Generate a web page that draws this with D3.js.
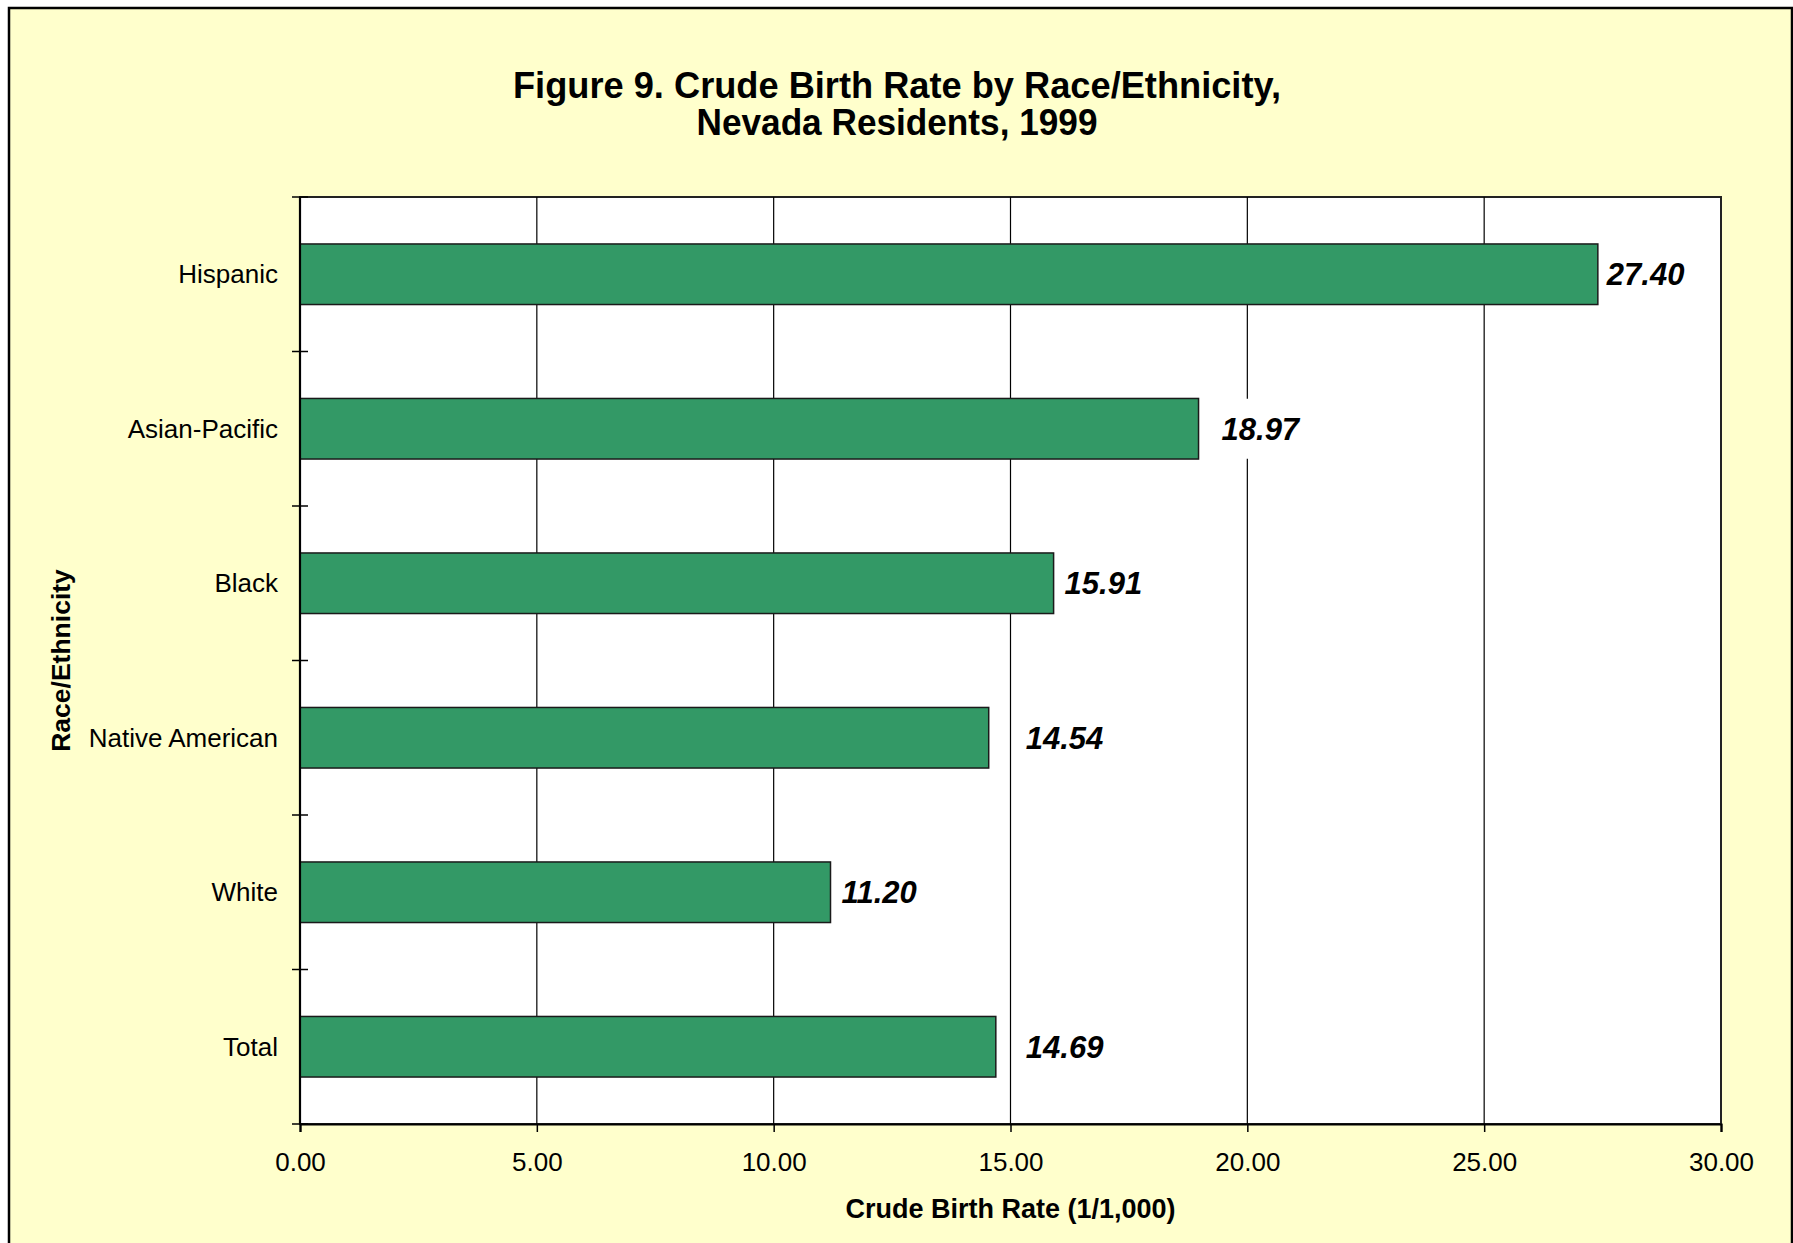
<!DOCTYPE html>
<html>
<head>
<meta charset="utf-8">
<script src="https://cdn.jsdelivr.net/npm/d3@7"></script>
<style>
  html, body { margin: 0; padding: 0; background: #ffffff; }
  svg { display: block; font-family: Arial, "Liberation Sans", sans-serif; }
</style>
</head>
<body>
<svg id="chart" width="1793" height="1243"></svg>
<script>
// data
const categories = ["Hispanic", "Asian-Pacific", "Black", "Native American", "White", "Total"];
const rates = [27.40, 18.97, 15.91, 14.54, 11.20, 14.69];
const xTicks = [0, 5, 10, 15, 20, 25, 30];

// label gap after each bar end (the labels were hand-placed in the original)
const labelGap = [9, 23, 11, 37, 11, 30];

const titleLines = ["Figure 9. Crude Birth Rate by Race/Ethnicity,", "Nevada Residents, 1999"];
const titleWidths = [768, 401];
const xTitle = "Crude Birth Rate (1/1,000)";
const yTitle = "Race/Ethnicity";

// layout
const plot = { left: 300, right: 1721, top: 197, bottom: 1124 };
const barColor = "#339966";

const svg = d3.select("#chart");

// chart area
svg.append("rect")
    .attr("x", 9).attr("y", 8)
    .attr("width", 1783).attr("height", 1260)
    .attr("fill", "#ffffcc")
    .attr("stroke", "#000")
    .attr("stroke-width", 2.5);

// title
svg.append("g").selectAll("text")
    .data(titleLines)
    .enter().append("text")
    .attr("x", 897)
    .attr("y", (d, i) => 98 + i * 37)
    .attr("text-anchor", "middle")
    .attr("font-size", "36px")
    .attr("font-weight", "bold")
    .attr("textLength", (d, i) => titleWidths[i])
    .attr("lengthAdjust", "spacingAndGlyphs")
    .text(d => d);

const x = d3.scaleLinear().domain([0, 30]).range([plot.left, plot.right]);
const y = d3.scaleBand()
    .domain(categories)
    .range([plot.top, plot.bottom])
    .paddingInner(0.608)
    .paddingOuter(0.304);

// plot area
svg.append("rect")
    .attr("x", plot.left).attr("y", plot.top)
    .attr("width", plot.right - plot.left)
    .attr("height", plot.bottom - plot.top)
    .attr("fill", "#ffffff")
    .attr("stroke", "#222")
    .attr("stroke-width", 2);

// vertical gridlines
svg.append("g").selectAll("line")
    .data(xTicks.slice(1, -1))
    .enter().append("line")
    .attr("x1", d => x(d)).attr("x2", d => x(d))
    .attr("y1", plot.top).attr("y2", plot.bottom)
    .attr("stroke", "#000")
    .attr("stroke-width", 1.2);

// bars
svg.append("g").selectAll("rect")
    .data(categories)
    .enter().append("rect")
    .attr("x", x(0))
    .attr("y", d => y(d))
    .attr("width", (d, i) => x(rates[i]) - x(0))
    .attr("height", y.bandwidth())
    .attr("fill", barColor)
    .attr("stroke", "#1a1a1a")
    .attr("stroke-width", 1.5);

// value labels with white backing (masks the gridlines like the original)
const labels = svg.append("g");
categories.forEach((c, i) => {
    const lx = x(rates[i]) + labelGap[i];
    const cy = y(c) + y.bandwidth() / 2;
    const bg = labels.append("rect").attr("fill", "#ffffff");
    const t = labels.append("text")
        .attr("x", lx)
        .attr("y", cy + 11)
        .attr("font-size", "31px")
        .attr("font-weight", "bold")
        .attr("font-style", "italic")
        .text(rates[i].toFixed(2));
    const b = t.node().getBBox();
    bg.attr("x", b.x - 6).attr("y", cy - 30)
      .attr("width", b.width + 12).attr("height", 60);
});

// x axis
const xAxis = svg.append("g")
    .attr("transform", `translate(0,${plot.bottom})`)
    .call(d3.axisBottom(x)
        .tickValues(xTicks)
        .tickFormat(d3.format(".2f"))
        .tickSize(8)
        .tickPadding(21));
xAxis.select(".domain").attr("stroke", "#000").attr("stroke-width", 2.2);
xAxis.selectAll(".tick line").attr("stroke", "#000").attr("stroke-width", 1.5);
xAxis.selectAll(".tick text")
    .attr("font-family", "Arial, 'Liberation Sans', sans-serif")
    .attr("font-size", "26px")
    .attr("fill", "#000");

// y axis: line, category labels, tick marks between categories
svg.append("line")
    .attr("x1", plot.left).attr("x2", plot.left)
    .attr("y1", plot.top).attr("y2", plot.bottom)
    .attr("stroke", "#000").attr("stroke-width", 2.2);

const boundaries = d3.range(categories.length + 1).map(i => plot.top + i * y.step());
svg.append("g").selectAll("line")
    .data(boundaries)
    .enter().append("line")
    .attr("x1", plot.left - 8).attr("x2", plot.left + 8)
    .attr("y1", d => d).attr("y2", d => d)
    .attr("stroke", "#000").attr("stroke-width", 1.5);

svg.append("g").selectAll("text")
    .data(categories)
    .enter().append("text")
    .attr("x", plot.left - 22)
    .attr("y", d => y(d) + y.bandwidth() / 2)
    .attr("dy", "0.35em")
    .attr("text-anchor", "end")
    .attr("font-size", "26px")
    .text(d => d);

// axis titles
svg.append("text")
    .attr("x", (plot.left + plot.right) / 2)
    .attr("y", 1218)
    .attr("text-anchor", "middle")
    .attr("font-size", "27px")
    .attr("font-weight", "bold")
    .text(xTitle);

svg.append("text")
    .attr("transform", `translate(70,${(plot.top + plot.bottom) / 2}) rotate(-90)`)
    .attr("text-anchor", "middle")
    .attr("font-size", "26.5px")
    .attr("font-weight", "bold")
    .text(yTitle);
</script>
</body>
</html>
